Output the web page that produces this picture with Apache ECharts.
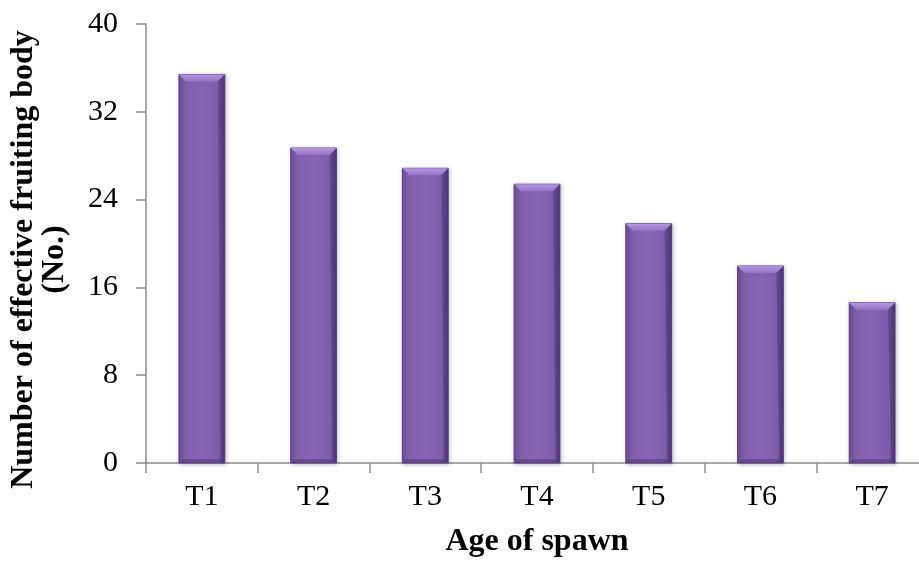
<!DOCTYPE html>
<html lang="en">
<head>
    <meta charset="UTF-8">
    <title>Age of spawn</title>
    <script src="https://cdn.jsdelivr.net/npm/echarts@6/dist/echarts.min.js"></script>
    <style>
        body { margin: 0; background: #ffffff; }
        #chart { width: 919px; height: 562px; }
    </style>
</head>
<body>
<div id="chart"></div>
<script>
var categories = ['T1', 'T2', 'T3', 'T4', 'T5', 'T6', 'T7'];
var values = [35.4, 28.7, 26.85, 25.4, 21.8, 17.95, 14.6];

var chart = echarts.init(document.getElementById('chart'));

// bar with a bevelled top, drawn from the axis coordinates
function renderBar(params, api) {
    var top = api.coord([api.value(0), api.value(1)]);
    var base = api.coord([api.value(0), 0]);
    var w = api.size([1, 0])[0] * 0.41;
    var x0 = top[0] - w / 2, x1 = top[0] + w / 2;
    var y0 = top[1], y1 = base[1];
    var b = 7;
    return {
        type: 'group',
        children: [
            {
                type: 'rect',
                shape: { x: x0, y: y0, width: w, height: y1 - y0 },
                style: {
                    fill: new echarts.graphic.LinearGradient(0, 0, 1, 0, [
                        { offset: 0, color: '#6d4e9a' },
                        { offset: 0.15, color: '#7f5fab' },
                        { offset: 0.5, color: '#8665b2' },
                        { offset: 0.85, color: '#7d5daa' },
                        { offset: 1, color: '#5c4086' }
                    ]),
                    stroke: '#5e4488',
                    lineWidth: 1,
                    shadowBlur: 4,
                    shadowColor: 'rgba(0,0,0,0.25)',
                    shadowOffsetX: 1,
                    shadowOffsetY: 1
                }
            },
            {
                type: 'polygon',
                shape: { points: [[x0, y0], [x1, y0], [x1 - b, y0 + b], [x0 + b, y0 + b]] },
                style: {
                    fill: new echarts.graphic.LinearGradient(0, 0, 0, 1, [
                        { offset: 0, color: '#b497e0' },
                        { offset: 1, color: '#9473c4' }
                    ])
                }
            },
            {
                type: 'polygon',
                shape: { points: [[x1, y0], [x1, y1], [x1 - 4, y1 - 4], [x1 - b, y0 + b]] },
                style: { fill: 'rgba(60,35,95,0.35)' }
            },
            {
                type: 'polygon',
                shape: { points: [[x0, y1], [x1, y1], [x1 - 4, y1 - 4], [x0 + 4, y1 - 4]] },
                style: { fill: 'rgba(60,35,95,0.3)' }
            }
        ]
    };
}

var option = {
    backgroundColor: '#ffffff',
    textStyle: { fontFamily: 'Liberation Serif' },
    grid: { left: 146, right: -9, top: 24, bottom: 99, outerBoundsMode: 'none' },
    xAxis: {
        type: 'category',
        data: categories,
        name: 'Age of spawn',
        nameLocation: 'middle',
        nameGap: 63,
        nameTextStyle: { fontSize: 32, fontWeight: 'bold', color: '#000', fontFamily: 'Liberation Serif' },
        axisLine: { lineStyle: { color: '#8c8c8c', width: 1.5 } },
        axisTick: { show: true, length: 10, alignWithLabel: false, lineStyle: { color: '#8c8c8c', width: 1.5 } },
        axisLabel: { fontSize: 30, color: '#000', margin: 19, fontFamily: 'Liberation Serif' }
    },
    yAxis: {
        type: 'value',
        min: 0,
        max: 40,
        interval: 8,
        name: 'Number of effective fruiting body\n(No.)',
        nameLocation: 'middle',
        nameGap: 76,
        nameTextStyle: {
            fontSize: 32, fontWeight: 'bold', color: '#000', lineHeight: 31,
            fontFamily: 'Liberation Serif', padding: [0, 32, 0, 0]
        },
        axisLine: { show: true, lineStyle: { color: '#8c8c8c', width: 1.5 } },
        axisTick: { show: true, length: 10, lineStyle: { color: '#8c8c8c', width: 1.5 } },
        axisLabel: { fontSize: 30, color: '#000', margin: 28, fontFamily: 'Liberation Serif' },
        splitLine: { show: false }
    },
    series: [{
        type: 'custom',
        renderItem: renderBar,
        encode: { x: 0, y: 1 },
        data: values.map(function (v, i) { return [i, v]; })
    }]
};

chart.setOption(option);
</script>
</body>
</html>
